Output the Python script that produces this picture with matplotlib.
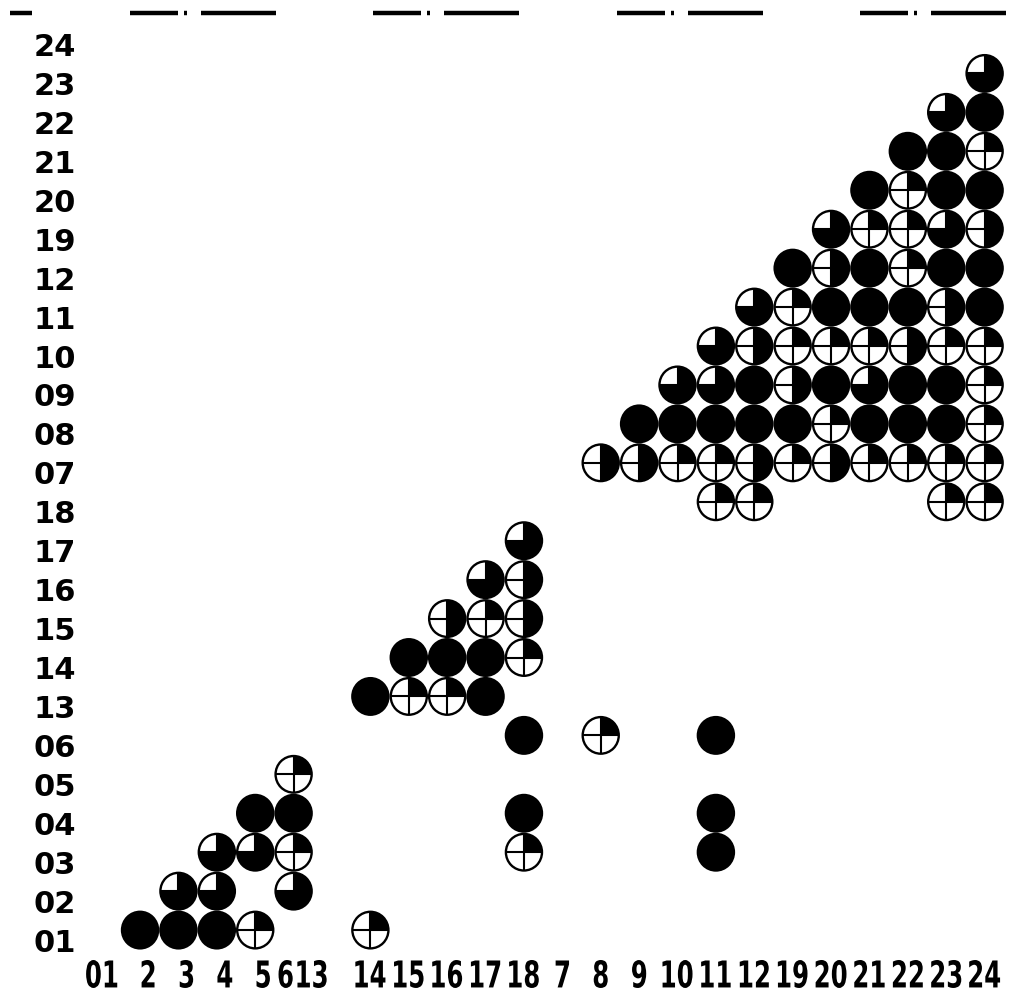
import matplotlib
matplotlib.use('Agg')
import matplotlib.pyplot as plt
from matplotlib.patches import Circle, Wedge, PathPatch
from matplotlib.lines import Line2D
from matplotlib.textpath import TextPath
from matplotlib.font_manager import FontProperties
from matplotlib.transforms import ScaledTranslation, Affine2D

# order of the items on both axes
order = ['01', '02', '03', '04', '05', '06', '13', '14', '15', '16', '17', '18',
         '07', '08', '09', '10', '11', '12', '19', '20', '21', '22', '23', '24']
x_labels = ['01', '2', '3', '4', '5', '6', '13', '14', '15', '16', '17', '18',
            '7', '8', '9', '10', '11', '12', '19', '20', '21', '22', '23', '24']
y_labels = order

# (column, row) of each circle, grouped by which quadrants are black
full = [('02', '01'), ('03', '01'), ('04', '01'),
        ('05', '04'), ('06', '04'), ('18', '04'), ('11', '04'),
        ('11', '03'), ('18', '06'), ('11', '06'),
        ('14', '13'), ('17', '13'), ('15', '14'), ('16', '14'), ('17', '14'),
        ('09', '08'), ('10', '08'), ('11', '08'), ('12', '08'), ('19', '08'),
        ('21', '08'), ('22', '08'), ('23', '08'),
        ('12', '09'), ('20', '09'), ('22', '09'), ('23', '09'),
        ('20', '11'), ('21', '11'), ('22', '11'), ('24', '11'),
        ('19', '12'), ('21', '12'), ('23', '12'), ('24', '12'),
        ('21', '20'), ('23', '20'), ('24', '20'),
        ('22', '21'), ('23', '21'), ('24', '22')]
tl_open = [('03', '02'), ('04', '02'), ('06', '02'), ('04', '03'), ('05', '03'),
           ('17', '16'), ('18', '17'),
           ('10', '09'), ('11', '09'), ('21', '09'), ('11', '10'), ('12', '11'),
           ('20', '19'), ('23', '19'), ('23', '22'), ('24', '23')]
right_half = [('16', '15'), ('18', '15'), ('18', '16'),
              ('08', '07'), ('09', '07'), ('12', '07'), ('20', '07'),
              ('19', '09'), ('12', '10'), ('22', '10'), ('23', '11'),
              ('20', '12'), ('24', '19')]
tr_only = [('05', '01'), ('14', '01'), ('06', '03'), ('18', '03'), ('06', '05'),
           ('08', '06'), ('15', '13'), ('16', '13'), ('18', '14'), ('17', '15'),
           ('11', '18'), ('12', '18'), ('23', '18'), ('24', '18'),
           ('10', '07'), ('11', '07'), ('19', '07'), ('21', '07'), ('22', '07'),
           ('23', '07'), ('24', '07'), ('20', '08'), ('24', '08'), ('24', '09'),
           ('19', '10'), ('20', '10'), ('21', '10'), ('23', '10'), ('24', '10'),
           ('19', '11'), ('22', '12'), ('21', '19'), ('22', '19'), ('22', '20'),
           ('24', '21')]

# black quadrants as wedge angles
TR, TL, BL, BR = (0, 90), (90, 180), (180, 270), (270, 360)
groups = [(full, None), (tl_open, [TR, BL, BR]),
          (right_half, [TR, BR]), (tr_only, [TR])]

fig = plt.figure(figsize=(10.12, 9.94), dpi=100)
ax = fig.add_axes([0.0777, 0.0408, 0.918, 0.948])
ax.set_xlim(-0.6, 23.6)
ax.set_ylim(-0.6, 23.6)

r = 0.47
lw = 1.7
for cells, quads in groups:
    for c, row in cells:
        x, y = order.index(c), order.index(row)
        if quads is None:
            ax.add_patch(Circle((x, y), r, facecolor='black', edgecolor='black', lw=lw))
            continue
        for t1, t2 in quads:
            ax.add_patch(Wedge((x, y), r, t1, t2, facecolor='black', edgecolor='none'))
        ax.plot([x - r, x + r], [y, y], color='black', lw=1.5, solid_capstyle='butt')
        ax.plot([x, x], [y - r, y + r], color='black', lw=1.5, solid_capstyle='butt')
        ax.add_patch(Circle((x, y), r, fill=False, edgecolor='black', lw=lw))

for s in ax.spines.values():
    s.set_visible(False)
ax.set_xticks([])
ax.set_yticks(range(len(y_labels)))
ax.set_yticklabels(y_labels, fontfamily='DejaVu Sans', fontweight='bold', fontsize=22)
ax.tick_params(axis='y', length=0, pad=2)
for lab in ax.get_yticklabels():
    lab.set_transform(lab.get_transform() + ScaledTranslation(0, -0.10, fig.dpi_scale_trans))

# x labels: tall condensed digits, drawn as text paths squeezed sideways
fp = FontProperties(family='DejaVu Sans', weight='bold')
nudge = {'2': 8, '3': 8, '4': 8, '5': 8, '6': -8, '13': -20}
sy = 37 / 100          # px per path unit (em of 37 px)
sx = 0.66 * sy
for i, s in enumerate(x_labels):
    tp = TextPath((0, 0), s, size=100, prop=fp)
    ext = tp.get_extents()
    tr = (Affine2D().translate(-(ext.x0 + ext.x1) / 2, -73)
          .scale(sx, sy).translate(nudge.get(s, 0), -7).scale(1 / 100)
          + fig.dpi_scale_trans
          + ScaledTranslation(i, 0, ax.get_xaxis_transform()))
    ax.add_patch(PathPatch(tp, facecolor='black', edgecolor='none',
                           transform=tr, clip_on=False))

# cut-off axis of the figure above
W, H = 1012, 994
def seg(a, b):
    fig.add_artist(Line2D([a / W, b / W], [1 - 13 / H, 1 - 13 / H], color='black',
                          lw=3.2, transform=fig.transFigure, solid_capstyle='butt'))
seg(10, 32)
for s0 in [130, 373, 617, 860]:
    seg(s0, s0 + 48)
    seg(s0 + 54, s0 + 57)
    seg(s0 + 71, min(s0 + 146, 1010))

fig.savefig('out.png', dpi=100, facecolor='white')
